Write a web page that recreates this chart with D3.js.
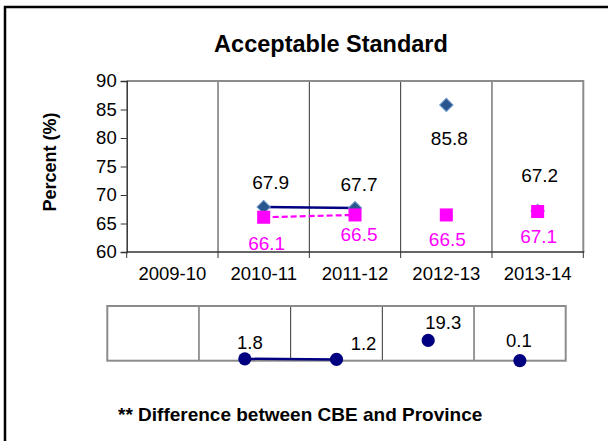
<!DOCTYPE html>
<html>
<head>
<meta charset="utf-8">
<script src="https://cdn.jsdelivr.net/npm/d3@7"></script>
<style>
  body { margin: 0; background: #fff; }
  text { font-family: "Liberation Sans", Arial, sans-serif; }
</style>
</head>
<body>
<script>
// chart data
const years = ["2009-10", "2010-11", "2011-12", "2012-13", "2013-14"];
const cbe = [null, 67.9, 67.7, 85.8, 67.2];        // CBE (diamonds)
const province = [null, 66.1, 66.5, 66.5, 67.1];   // Province (squares)
const difference = [null, 1.8, 1.2, 19.3, 0.1];    // CBE - Province
const trendYears = ["2010-11", "2011-12"];          // years joined by a line
const yTicks = [60, 65, 70, 75, 80, 85, 90];

// label nudges (layout only)
const cbeLabelOff = [null, [7, -18], [4, -17], [3, 40], [2, -29]];
const provLabelOff = [null, [3, 33], [4, 26], [1, 31], [1, 31]];
const diffLabelOff = [null, [5, -10], [27, -9], [15, -11], [-1, -14]];

const W = 608, H = 441;
const svg = d3.select("body").append("svg")
  .attr("width", W).attr("height", H);

// outer frame (only left/top visible)
svg.append("rect")
  .attr("x", 5).attr("y", 7).attr("width", 640).attr("height", 480)
  .attr("fill", "none").attr("stroke", "#000").attr("stroke-width", 2.5);

svg.append("text")
  .attr("x", 331).attr("y", 52)
  .attr("text-anchor", "middle")
  .attr("font-size", "23.5px").attr("font-weight", "bold")
  .text("Acceptable Standard");

// ---- upper chart ----
const x = d3.scaleBand().domain(years).range([126.7, 583.3]).padding(0);
const y = d3.scaleLinear().domain([60, 90]).range([252, 81]);

const upper = svg.append("g");

// vertical separators between categories
upper.selectAll("line.sep")
  .data(years.slice(1))
  .join("line")
  .attr("x1", d => x(d)).attr("x2", d => x(d))
  .attr("y1", y(90)).attr("y2", y(60) + 6)
  .attr("stroke", "#333").attr("stroke-width", 1);

// plot border: top and right gray
upper.append("path")
  .attr("d", `M${x.range()[0]},${y(90)}H${x.range()[1]}V${y(60)}`)
  .attr("fill", "none").attr("stroke", "#8c8c8c").attr("stroke-width", 2);

// y axis
const yAxis = d3.axisLeft(y).tickValues(yTicks).tickSize(6).tickPadding(4);
upper.append("g")
  .attr("transform", `translate(${x.range()[0]},0)`)
  .call(yAxis)
  .call(g => g.select(".domain").attr("stroke", "#333").attr("stroke-width", 1.5))
  .call(g => g.selectAll(".tick line").attr("stroke", "#333"))
  .call(g => g.selectAll(".tick text").attr("font-size", "18.5px").attr("fill", "#000")
    .style("font-family", "'Liberation Sans', Arial, sans-serif"));

// x axis line with boundary ticks
upper.append("line")
  .attr("x1", x.range()[0]).attr("x2", x.range()[1] + 1)
  .attr("y1", y(60)).attr("y2", y(60))
  .attr("stroke", "#333").attr("stroke-width", 1.5);
upper.selectAll("line.bt")
  .data([x.range()[0], x.range()[1]])
  .join("line")
  .attr("x1", d => d).attr("x2", d => d)
  .attr("y1", y(60)).attr("y2", y(60) + 6)
  .attr("stroke", "#333");
upper.selectAll("text.xl")
  .data(years)
  .join("text")
  .attr("x", d => x(d) + x.bandwidth() / 2)
  .attr("y", 280)
  .attr("text-anchor", "middle")
  .attr("font-size", "18.5px")
  .text(d => d);

// y axis title
svg.append("text")
  .attr("transform", "translate(56,162) rotate(-90)")
  .attr("text-anchor", "middle")
  .attr("font-size", "18px").attr("font-weight", "bold")
  .text("Percent (%)");

const cx = d => x(d) + x.bandwidth() / 2;

const cbePts = years.map((d, i) => ({ year: d, v: cbe[i], i })).filter(d => d.v != null);
const provPts = years.map((d, i) => ({ year: d, v: province[i], i })).filter(d => d.v != null);

const line = d3.line().x(d => cx(d.year)).y(d => y(d.v));

// CBE line + diamonds
upper.append("path")
  .datum(cbePts.filter(d => trendYears.includes(d.year)))
  .attr("d", line)
  .attr("fill", "none").attr("stroke", "#000080").attr("stroke-width", 2.5);

upper.selectAll("path.dia")
  .data(cbePts)
  .join("path")
  .attr("transform", d => `translate(${cx(d.year)},${y(d.v)}) rotate(45)`)
  .attr("d", d3.symbol(d3.symbolSquare, 88))
  .attr("fill", "#2A568E").attr("stroke", "#6A96CC").attr("stroke-width", 1);

// Province line + squares
upper.append("path")
  .datum(provPts.filter(d => trendYears.includes(d.year)))
  .attr("d", line)
  .attr("fill", "none").attr("stroke", "#FF00FF").attr("stroke-width", 2.2)
  .attr("stroke-dasharray", "6,3");

upper.selectAll("path.sq")
  .data(provPts)
  .join("path")
  .attr("transform", d => `translate(${cx(d.year)},${y(d.v)})`)
  .attr("d", d3.symbol(d3.symbolSquare, 170))
  .attr("fill", "#FF00FF");

upper.selectAll("text.cl")
  .data(cbePts)
  .join("text")
  .attr("x", d => cx(d.year) + cbeLabelOff[d.i][0])
  .attr("y", d => y(d.v) + cbeLabelOff[d.i][1])
  .attr("text-anchor", "middle")
  .attr("font-size", "19px").attr("fill", "#000")
  .text(d => d.v.toFixed(1));

upper.selectAll("text.pl")
  .data(provPts)
  .join("text")
  .attr("x", d => cx(d.year) + provLabelOff[d.i][0])
  .attr("y", d => y(d.v) + provLabelOff[d.i][1])
  .attr("text-anchor", "middle")
  .attr("font-size", "19px").attr("fill", "#FF00FF")
  .text(d => d.v.toFixed(1));

// ---- lower difference panel ----
const x2 = d3.scaleBand().domain(years).range([107.3, 565.7]).padding(0);
const y2 = d3.scaleLinear().domain([0, 52]).range([360.7, 306]);
const lower = svg.append("g");

lower.selectAll("line.sep")
  .data(years.slice(1))
  .join("line")
  .attr("x1", d => x2(d)).attr("x2", d => x2(d))
  .attr("y1", y2.range()[1]).attr("y2", y2.range()[0])
  .attr("stroke", "#333").attr("stroke-width", 1);

lower.append("rect")
  .attr("x", x2.range()[0]).attr("y", y2.range()[1])
  .attr("width", x2.range()[1] - x2.range()[0])
  .attr("height", y2.range()[0] - y2.range()[1])
  .attr("fill", "none").attr("stroke", "#8c8c8c").attr("stroke-width", 2);

const cx2 = d => x2(d) + x2.bandwidth() / 2;
const diffPts = years.map((d, i) => ({ year: d, v: difference[i], i })).filter(d => d.v != null);

lower.append("path")
  .datum(diffPts.filter(d => trendYears.includes(d.year)))
  .attr("d", d3.line().x(d => cx2(d.year)).y(d => y2(d.v)))
  .attr("fill", "none").attr("stroke", "#000080").attr("stroke-width", 2.5);

lower.selectAll("circle")
  .data(diffPts)
  .join("circle")
  .attr("cx", d => cx2(d.year)).attr("cy", d => y2(d.v))
  .attr("r", 6.6).attr("fill", "#000080");

lower.selectAll("text.dl")
  .data(diffPts)
  .join("text")
  .attr("x", d => cx2(d.year) + diffLabelOff[d.i][0])
  .attr("y", d => y2(d.v) + diffLabelOff[d.i][1])
  .attr("text-anchor", "middle")
  .attr("font-size", "18.5px").attr("fill", "#000")
  .text(d => d.v.toFixed(1));

svg.append("text")
  .attr("x", 118).attr("y", 421)
  .attr("font-size", "19px").attr("font-weight", "bold")
  .text("** Difference between CBE and Province");
</script>
</body>
</html>
